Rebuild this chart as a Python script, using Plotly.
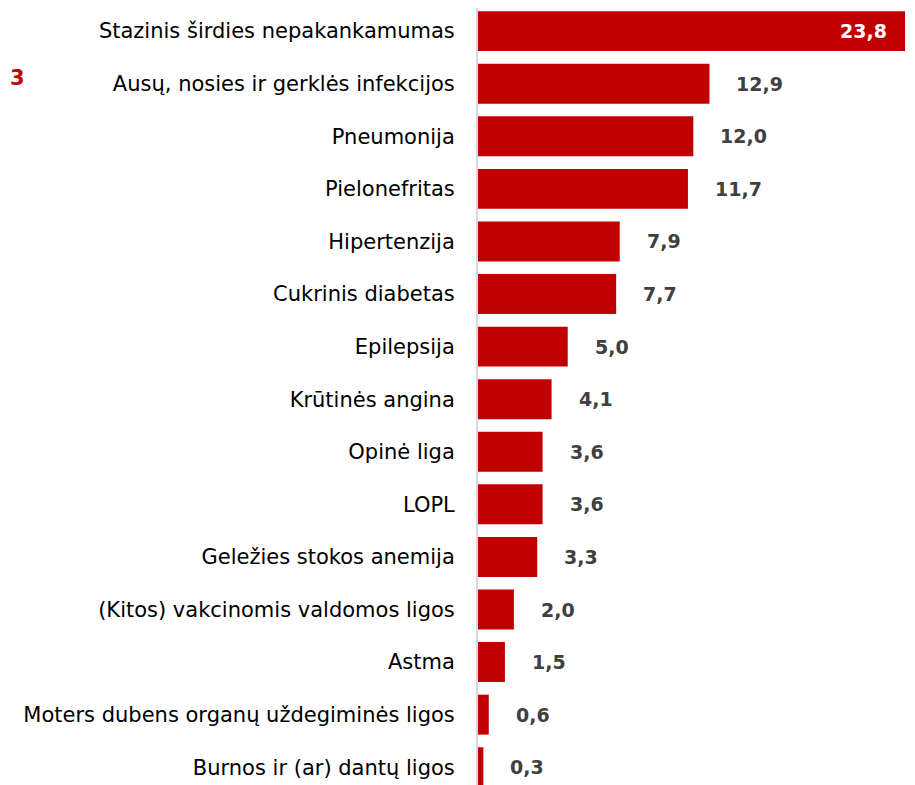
import plotly.graph_objects as go

categories = [
    "Stazinis širdies nepakankamumas",
    "Ausų, nosies ir gerklės infekcijos",
    "Pneumonija",
    "Pielonefritas",
    "Hipertenzija",
    "Cukrinis diabetas",
    "Epilepsija",
    "Krūtinės angina",
    "Opinė liga",
    "LOPL",
    "Geležies stokos anemija",
    "(Kitos) vakcinomis valdomos ligos",
    "Astma",
    "Moters dubens organų uždegiminės ligos",
    "Burnos ir (ar) dantų ligos",
]
values = [23.8, 12.9, 12.0, 11.7, 7.9, 7.7, 5.0, 4.1, 3.6, 3.6, 3.3, 2.0, 1.5, 0.6, 0.3]

RED = "#c00000"
FONT = "DejaVu Sans, sans-serif"

fig = go.Figure(go.Bar(
    x=values, y=categories, orientation="h",
    marker=dict(color=RED, line=dict(width=0)),
    hoverinfo="skip",
))

# value labels: biggest one inside in white, the rest outside in grey
for i, (c, v) in enumerate(zip(categories, values)):
    txt = f"{v:.1f}".replace(".", ",")
    if i == 0:
        fig.add_annotation(x=v, y=c, text=txt, showarrow=False, xanchor="right",
                           xshift=-16, font=dict(family=FONT, size=19, color="white", weight="bold"))
    else:
        fig.add_annotation(x=v, y=c, text=txt, showarrow=False, xanchor="left",
                           xshift=25, font=dict(family=FONT, size=19, color="#404040", weight="bold"))

# red fragment at the left edge
PLOT_W = 915 - 470
fig.add_annotation(xref="paper", yref="y", x=-470 / PLOT_W, y=categories[1], text="3",
                   showarrow=False, xanchor="left", yshift=6,
                   font=dict(family=FONT, size=21, color=RED, weight="bold"))

fig.update_layout(
    width=915, height=785,
    margin=dict(l=470, r=0, t=0, b=0),
    plot_bgcolor="white", paper_bgcolor="white",
    bargap=0.24, showlegend=False,
    font=dict(family=FONT, size=18, color="black"),
)
fig.update_xaxes(range=[0, 24.8], visible=False, fixedrange=True)
fig.update_yaxes(range=[14.49, -0.44], showline=True, linecolor="#d9d9d9", linewidth=2,
                 ticks="", ticklabelstandoff=17, showgrid=False,
                 tickfont=dict(family=FONT, size=21, color="black"))

fig.write_html("out.html")
